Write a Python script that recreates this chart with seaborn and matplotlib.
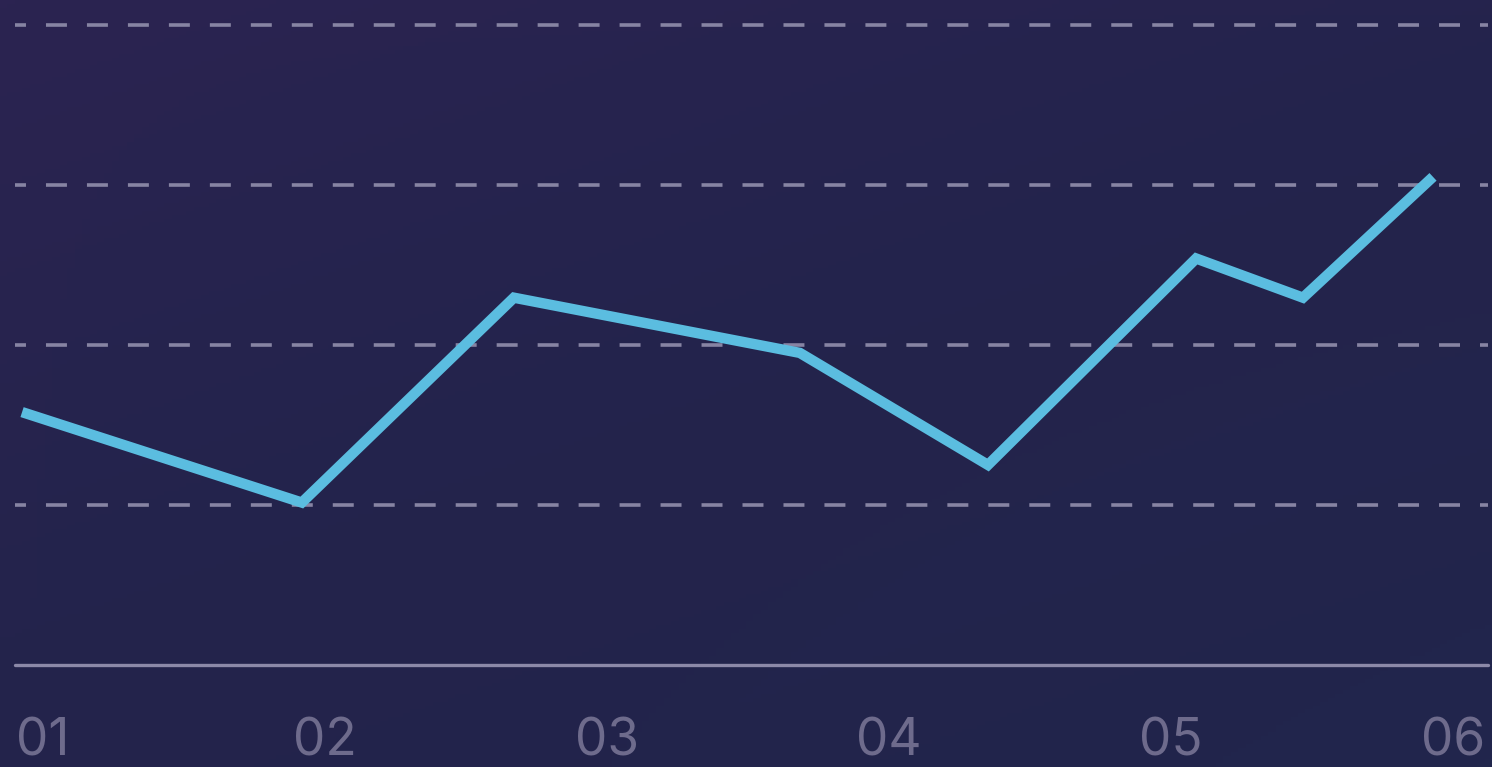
import numpy as np
import pandas as pd
import seaborn as sns
import matplotlib.pyplot as plt
from matplotlib.colors import LinearSegmentedColormap

# values
months = ["01", "02", "03", "04", "05", "06"]
x_pos = [-0.074, 0.918, 1.670, 2.684, 3.351, 4.089, 4.468, 4.929]
values = [31.6, 20.3, 45.9, 39.0, 25.0, 50.8, 45.9, 61.0]
grid_levels = [20, 40, 60, 80]

df = pd.DataFrame({"x": x_pos, "y": values})

sns.set_style("dark")
plt.rcParams["font.family"] = ["Inter", "DejaVu Sans"]
plt.rcParams["lines.scale_dashes"] = False

fig = plt.figure(figsize=(14.92, 7.67), dpi=100)

# background gradient
bg = fig.add_axes([0, 0, 1, 1])
bg.axis("off")
yy, xx = np.mgrid[0:1:200j, 0:1:200j]
t = 0.6 * yy + 0.4 * xx
cmap = LinearSegmentedColormap.from_list("bg", ["#2b2351", "#24234c", "#21244a"])
bg.imshow(t, cmap=cmap, aspect="auto", extent=[0, 1, 0, 1], origin="upper")
tr = 0.5 * xx * (1 - yy)
bg.imshow(np.dstack([np.full_like(tr, 0.14), np.full_like(tr, 0.18), np.full_like(tr, 0.33), tr * 0.5]),
          aspect="auto", extent=[0, 1, 0, 1], origin="lower")
bg.set_xlim(0, 1)
bg.set_ylim(0, 1)

ax = fig.add_axes([15 / 1492, 102 / 767, 1473 / 1492, 665 / 767])
ax.patch.set_alpha(0)

for lv in grid_levels:
    ax.axhline(lv, color="#8784a3", lw=2.6, linestyle=(7.2, (15.1, 14.4)), zorder=1)
ax.axhline(0, color="#8c89a8", lw=2.4, zorder=1, clip_on=False)

sns.lineplot(data=df, x="x", y="y", ax=ax, color="#5bbde0", lw=7.5, zorder=3,
             solid_joinstyle="miter", solid_capstyle="butt")

ax.set_xlim(-0.099, 5.124)
ax.set_ylim(0, 83.1)
ax.set_xticks(range(len(months)))
ax.set_xticklabels(months, fontsize=37, color="#6e6b8c")
ax.set_yticks([])
ax.tick_params(axis="x", length=0, pad=38)
ax.set_xlabel("")
ax.set_ylabel("")
ax.grid(False)
for s in ax.spines.values():
    s.set_visible(False)

fig.savefig("out.png", dpi=100)
